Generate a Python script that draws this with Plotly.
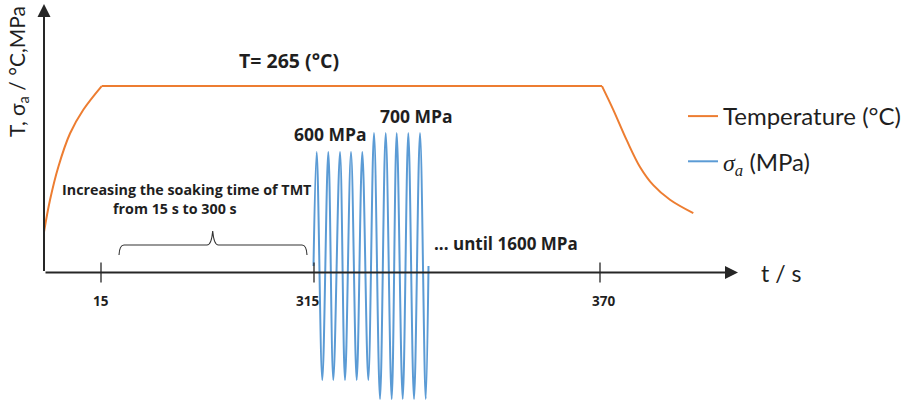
import plotly.graph_objects as go

# Schematic time axis: one unit per screen pixel, labelled at the key instants
tick_pos = [101, 314, 600]
tick_text = ["15", "315", "370"]

# Temperature programme (°C): heating ramp, isothermal hold, cooling
temp_rise_t = [44, 50, 58.3, 70, 83.3, 101.7]
temp_rise_T = [25, 77.6, 132, 187, 226, 265]
temp_hold_t = [101.7, 602]
temp_hold_T = [265, 265]
temp_cool_t = [602, 613.3, 626.7, 640, 653.3, 670, 693.3]
temp_cool_T = [265, 226, 176, 132, 102, 78, 56]

# Stress amplitude σa (MPa): turning points of the loading cycles
sigma_t = [313.5, 316.7, 322.3, 328.3, 333.3, 340, 345, 351, 356.7, 362.3, 368.3,
           374, 380, 385.7, 391.7, 396.7, 402.7, 408.3, 414, 420, 425.7, 428.5]
sigma_v = [0, 600, -600, 600, -600, 600, -600, 600, -600, 600, -600,
           700, -700, 700, -700, 700, -700, 700, -700, 700, -700, 0]

ORANGE = "#ED7D31"
BLUE = "#5B9BD5"
INK = "#1f1f1f"
AXIS = "#262626"
BOLD_FONT = "Open Sans"
TEXT_FONT = "Lato"

W, H = 914, 401
axis_level = -34          # height of the drawn time axis, in MPa units
y_top_arrow = 1379        # tip of the vertical axis arrow

fig = go.Figure()

temp_style = dict(color=ORANGE, width=2)
fig.add_trace(go.Scatter(x=temp_rise_t, y=temp_rise_T, yaxis="y2", mode="lines",
                         line=dict(shape="spline", **temp_style),
                         name="Temperature (°C)", legendgroup="T", showlegend=True))
fig.add_trace(go.Scatter(x=temp_hold_t, y=temp_hold_T, yaxis="y2", mode="lines",
                         line=temp_style, legendgroup="T", showlegend=False))
fig.add_trace(go.Scatter(x=temp_cool_t, y=temp_cool_T, yaxis="y2", mode="lines",
                         line=dict(shape="spline", **temp_style),
                         legendgroup="T", showlegend=False))

fig.add_trace(go.Scatter(
    x=sigma_t, y=sigma_v, mode="lines",
    line=dict(color=BLUE, width=2, shape="spline"),
    name="<span style=\"font-family:'Liberation Serif'\"><i>σ<sub>a</sub></i></span> (MPa)",
    legendgroup="S",
))

shapes = []
# tick marks crossing the time axis
for t in tick_pos:
    shapes.append(dict(type="line", xref="x", yref="y", x0=t, x1=t,
                       ysizemode="pixel", yanchor=axis_level, y0=-10, y1=10,
                       line=dict(color=AXIS, width=1.3), layer="above"))


# curly brace spanning the soaking interval (drawn in screen rows)
def row(py):
    return (266 - py) / 0.19


brace = (f"M 119,{row(255)} Q 119.5,{row(245)} 124,{row(245)} "
         f"L 207,{row(245)} Q 211.5,{row(245)} 212.7,{row(231)} "
         f"Q 213.9,{row(245)} 218.4,{row(245)} "
         f"L 302,{row(245)} Q 306.5,{row(245)} 307,{row(255)}")
shapes.append(dict(type="path", xref="x", yref="y", path=brace,
                   line=dict(color="#333333", width=1.1)))

annotations = []
# axis arrows
annotations.append(dict(x=738, y=axis_level, ax=44, ay=axis_level, xref="x", yref="y",
                        axref="x", ayref="y", text="", showarrow=True, arrowhead=2,
                        arrowsize=1.3, arrowwidth=2, arrowcolor=AXIS,
                        standoff=0, startstandoff=0))
annotations.append(dict(x=44, y=y_top_arrow, ax=44, ay=axis_level, xref="x", yref="y",
                        axref="x", ayref="y", text="", showarrow=True, arrowhead=2,
                        arrowsize=1.3, arrowwidth=2, arrowcolor=AXIS,
                        standoff=0, startstandoff=0))

# tick labels
for t, lab, dx in zip(tick_pos, tick_text, [0, -7, 3]):
    annotations.append(dict(x=t, y=axis_level, xref="x", yref="y", text=f"<b>{lab}</b>",
                            showarrow=False, yshift=-29, xshift=dx,
                            font=dict(family=BOLD_FONT, size=13.5, color=INK)))


def label(x, py, text, size, bold=True, **kw):
    annotations.append(dict(x=x, y=1 - py / H, xref="x", yref="paper",
                            text=f"<b>{text}</b>" if bold else text, showarrow=False,
                            xanchor="center", yanchor="middle",
                            font=dict(family=BOLD_FONT if bold else TEXT_FONT,
                                      size=size, color=INK), **kw))


label(288.5, 60.5, "T= 265 (°C)", 19.5)
label(330, 134, "600 MPa", 17.5)
label(416, 116.5, "700 MPa", 17.5)
label(186, 189, "Increasing the soaking time of TMT", 14.3)
label(175, 209, "from 15 s to 300 s", 14.3)
label(506, 243, "... until 1600 MPa", 17)
label(781, 273, "t / s", 23, bold=False)
label(18, 72, "T, σ<sub>a</sub> / °C,MPa", 21, bold=False, textangle=-90)

fig.update_layout(
    width=W, height=H,
    margin=dict(l=0, r=0, t=0, b=0),
    paper_bgcolor="white", plot_bgcolor="white",
    xaxis=dict(range=[0, W], visible=False, fixedrange=True),
    yaxis=dict(range=[-710.5, 1400], visible=False, fixedrange=True),
    yaxis2=dict(range=[-252.96, 406.6], overlaying="y", visible=False, fixedrange=True),
    shapes=shapes,
    annotations=annotations,
    showlegend=True,
    legend=dict(x=683 / W, y=1 - 94 / H, xanchor="left", yanchor="top",
                font=dict(family=TEXT_FONT, size=24, color=INK),
                bgcolor="rgba(0,0,0,0)", tracegroupgap=11, itemwidth=30),
)

fig.write_html("out.html")
